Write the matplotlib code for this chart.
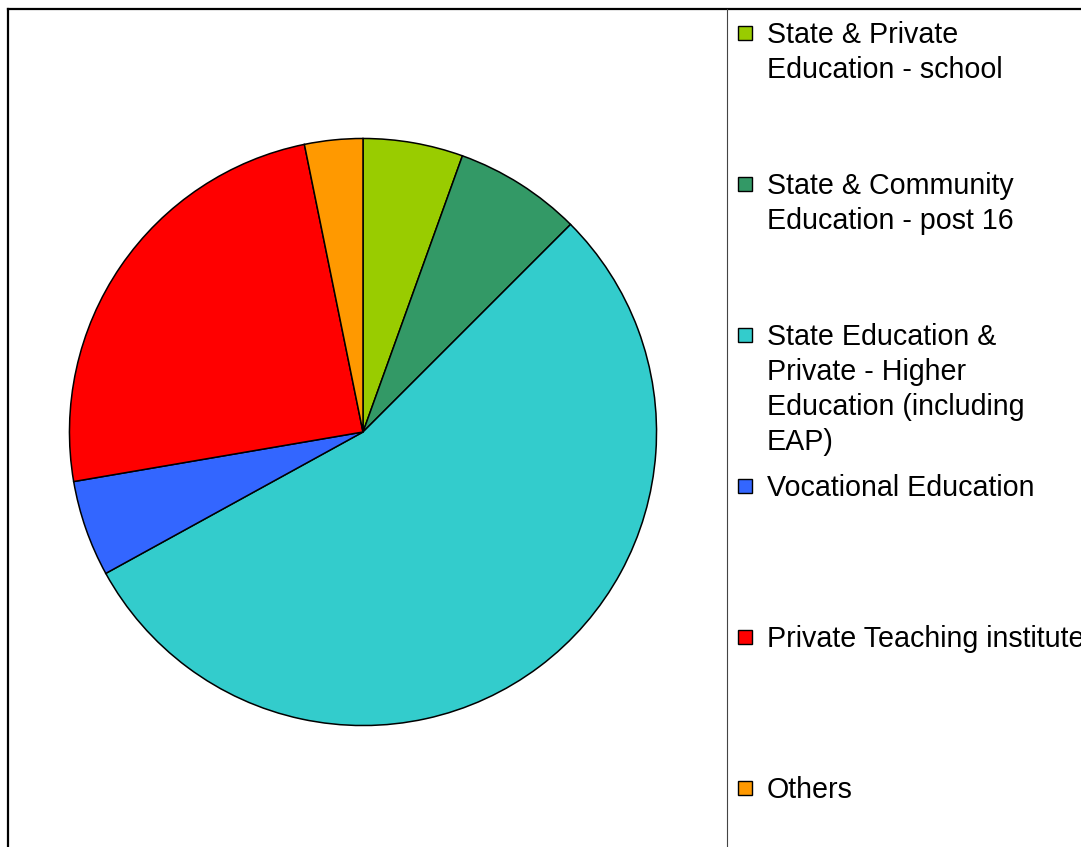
import matplotlib.pyplot as plt
from matplotlib.patches import Rectangle
from matplotlib.lines import Line2D

plt.rcParams['font.family'] = ['Liberation Sans', 'DejaVu Sans']

# Sectors where teachers work (share of respondents, %)
sectors = [
    'State & Private\nEducation - school',
    'State & Community\nEducation - post 16',
    'State Education &\nPrivate - Higher\nEducation (including\nEAP)',
    'Vocational Education',
    'Private Teaching institute',
    'Others',
]
shares = [5.5, 7.0, 54.5, 5.3, 24.5, 3.2]
colors = ['#99cc00', '#339966', '#33cccc', '#3366ff', '#ff0000', '#ff9900']

W, H = 1081, 847
fig = plt.figure(figsize=(W / 100, H / 100), dpi=100)

# pie: centre (363, 432) px, radius 295 px
cx, cy, r = 363, 432, 295
ax = fig.add_axes([(cx - r) / W, (H - cy - r) / H, 2 * r / W, 2 * r / H])
ax.pie(shares, colors=colors, startangle=90, counterclock=False,
       wedgeprops=dict(edgecolor='black', linewidth=1.1))
ax.set_xlim(-1.005, 1.005)
ax.set_ylim(-1.005, 1.005)
ax.set_aspect('auto')
ax.axis('off')

# outer frame (left and top edges) and the legend divider
fig.add_artist(Line2D([8 / W, 8 / W], [0, 1 - 9 / H], color='black', lw=1.6))
fig.add_artist(Line2D([8 / W, 1], [1 - 9 / H, 1 - 9 / H], color='black', lw=1.6))
fig.add_artist(Line2D([727 / W, 727 / W], [0, 1 - 9 / H], color='#444444', lw=0.8))

# legend entries, one every 151 px, wrapped lines 35 px apart
for i, (label, c) in enumerate(zip(sectors, colors)):
    top = 26 + 151 * i
    fig.add_artist(Rectangle((738 / W, 1 - (top + 14) / H), 14 / W, 14 / H,
                             facecolor=c, edgecolor='black', lw=1.0,
                             transform=fig.transFigure))
    for j, line in enumerate(label.split('\n')):
        base = top + 17 + 35 * j
        fig.text(767 / W, 1 - base / H, line, fontsize=20.6,
                 va='baseline', ha='left')

fig.savefig('out.png', dpi=100)
